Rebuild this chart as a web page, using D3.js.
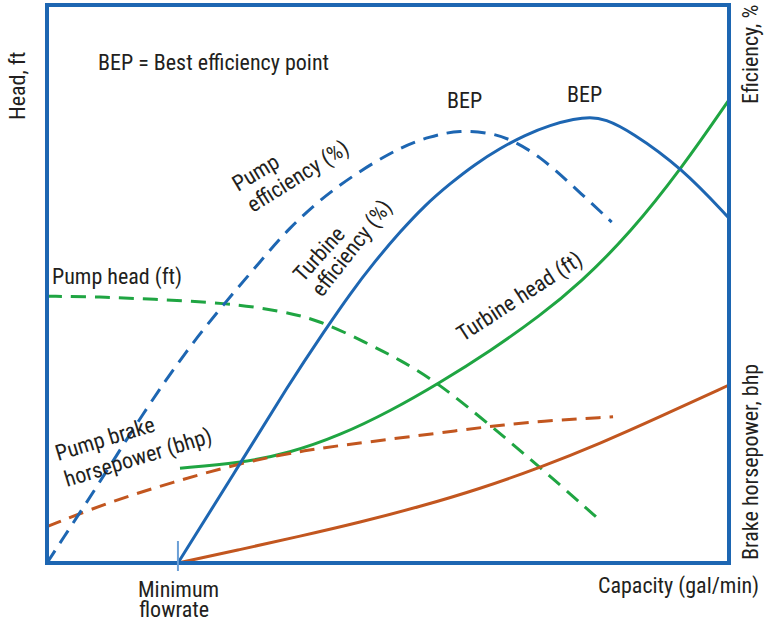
<!DOCTYPE html>
<html>
<head>
<meta charset="utf-8">
<script src="https://cdn.jsdelivr.net/npm/d3@7.9.0/dist/d3.min.js"></script>
<style>
  html, body { margin: 0; padding: 0; background: #fff; }
  svg { display: block; }
  text {
    font-family: "Liberation Sans Narrow", "Roboto Condensed", "Arial Narrow", "DejaVu Sans Condensed", sans-serif;
    font-stretch: condensed;
    font-size: 22px;
    fill: #231f20;
  }
</style>
</head>
<body>
<svg id="chart"></svg>
<script>
// capacity and value in relative units (0-100)
const pumpEfficiency = [
  [0, 0], [1.9, 3.6], [7.3, 13.6], [14.1, 26.9], [20.5, 38.2], [26.4, 47.1],
  [31.2, 53.9], [35.2, 59.7], [41.5, 66.8], [50.7, 74.0], [56.2, 76.5],
  [60.6, 77.6], [65.0, 77.1], [68.3, 75.8], [72.3, 72.8], [76.2, 68.6], [82.8, 61.1]
];
const turbineEfficiency = [
  [19.2, 0], [27.3, 15.8], [35.6, 32.3], [40.8, 41.8], [44.4, 48.2], [48.1, 54.1],
  [51.8, 59.4], [55.4, 64.1], [59.1, 68.0], [62.8, 71.5], [66.4, 74.3],
  [70.1, 76.7], [73.8, 78.5], [77.4, 79.6], [79.6, 79.9], [81.8, 79.6],
  [85.5, 77.4], [93.1, 70.8], [100, 61.8]
];
const pumpHead = [
  [0, 47.8], [7.8, 47.7], [15.1, 47.3], [26.4, 46.6], [34.2, 45.2], [40.0, 43.5],
  [46.9, 39.4], [51.8, 36.4], [57.2, 32.4], [65.0, 24.7], [73.3, 16.1], [81.4, 7.3]
];
const turbineHead = [
  [19.5, 17.0], [28.3, 17.9], [35.6, 19.7], [43.0, 22.9], [50.3, 27.2], [57.6, 32.3],
  [65.0, 38.0], [72.3, 44.3], [78.2, 50.2], [85.5, 59.1], [93.1, 70.8], [100, 83.0]
];
const pumpBhp = [
  [0, 6.5], [8.8, 10.8], [18.5, 14.5], [28.3, 17.9], [38.1, 20.3], [45.9, 21.5],
  [60.6, 23.8], [70.4, 25.3], [83.0, 26.2]
];
const turbineBhp = [
  [19.2, 0], [28.3, 2.4], [37.1, 4.8], [45.9, 7.3], [54.7, 10.1], [63.5, 13.3],
  [72.3, 17.1], [81.1, 21.4], [89.9, 26.2], [100, 31.9]
];
const minFlowrate = 19.2;

const width = 773;
const height = 624;
const margin = { top: 5, right: 44, bottom: 61, left: 47 };

const blue = '#1d66b2';
const green = '#1fa542';
const orange = '#c2561f';

const svg = d3.select('#chart')
  .attr('width', width)
  .attr('height', height)
  .attr('viewBox', `0 0 ${width} ${height}`);

const xScale = d3.scaleLinear()
  .domain([0, 100])
  .range([margin.left, width - margin.right]);

const yScale = d3.scaleLinear()
  .domain([0, 100])
  .range([height - margin.bottom, margin.top]);

// hand-read points are a bit noisy, so smooth them with a B-spline
const line = d3.line()
  .x(d => xScale(d[0]))
  .y(d => yScale(d[1]))
  .curve(d3.curveBasis);

const series = [
  { data: pumpHead, color: green, dashed: true },
  { data: turbineHead, color: green, dashed: false },
  { data: pumpBhp, color: orange, dashed: true },
  { data: turbineBhp, color: orange, dashed: false },
  { data: pumpEfficiency, color: blue, dashed: true },
  { data: turbineEfficiency, color: blue, dashed: false },
];

svg.append('g')
  .attr('class', 'curves')
  .selectAll('path')
  .data(series)
  .join('path')
  .attr('d', d => line(d.data))
  .attr('fill', 'none')
  .attr('stroke', d => d.color)
  .attr('stroke-width', 3)
  .attr('stroke-dasharray', d => d.dashed ? '15,9' : null);

// frame
svg.append('rect')
  .attr('x', xScale(0))
  .attr('y', yScale(100))
  .attr('width', xScale(100) - xScale(0))
  .attr('height', yScale(0) - yScale(100))
  .attr('fill', 'none')
  .attr('stroke', blue)
  .attr('stroke-width', 4);

// minimum flowrate tick
svg.append('line')
  .attr('x1', xScale(minFlowrate))
  .attr('x2', xScale(minFlowrate))
  .attr('y1', yScale(0) - 22)
  .attr('y2', yScale(0) + 8)
  .attr('stroke', '#6b9fd6')
  .attr('stroke-width', 2);

// labels
const labels = [
  { text: 'BEP = Best efficiency point', x: 98, y: 70, r: 0 },
  { text: 'BEP', x: 447, y: 108, r: 0 },
  { text: 'BEP', x: 567, y: 102, r: 0 },
  { text: 'Pump head (ft)', x: 52, y: 284, r: 0 },
  { text: 'Pump', x: 238, y: 192, r: -31 },
  { text: 'efficiency (%)', x: 253, y: 213, r: -32 },
  { text: 'Turbine', x: 303, y: 283, r: -48 },
  { text: 'efficiency (%)', x: 322, y: 298, r: -52 },
  { text: 'Turbine head (ft)', x: 463, y: 342, r: -33 },
  { text: 'Pump brake', x: 58, y: 461, r: -17 },
  { text: 'horsepower (bhp)', x: 67, y: 487, r: -17 },
  { text: 'Minimum', x: 138, y: 597, r: 0 },
  { text: 'flowrate', x: 139, y: 617, r: 0 },
  { text: 'Capacity (gal/min)', x: 598, y: 593, r: 0 },
  { text: 'Head, ft', x: 25, y: 120, r: -90 },
  { text: 'Eficiency, %', x: 758, y: 104, r: -90 },
  { text: 'Brake horsepower, bhp', x: 758, y: 560, r: -90 },
];

svg.append('g')
  .attr('class', 'labels')
  .selectAll('text')
  .data(labels)
  .join('text')
  .attr('transform', d => `translate(${d.x},${d.y}) rotate(${d.r})`)
  .text(d => d.text);
</script>
</body>
</html>
